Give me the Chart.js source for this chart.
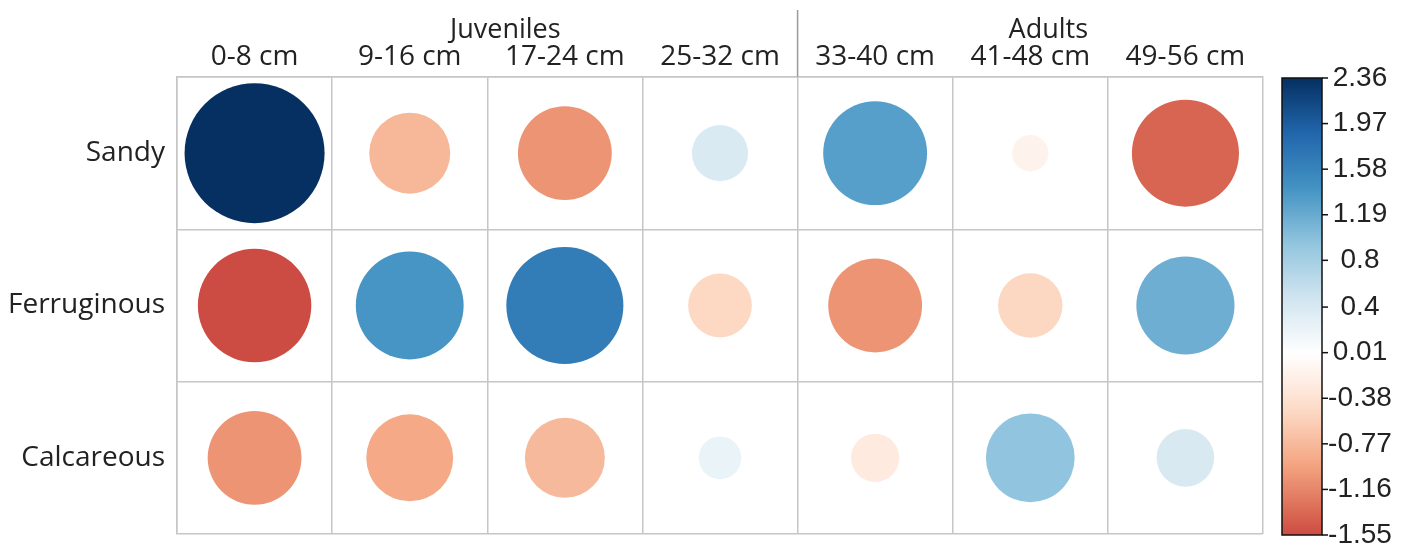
<!DOCTYPE html>
<html>
<head>
<meta charset="utf-8">
<script src="https://cdn.jsdelivr.net/npm/chart.js@4.4.1/dist/chart.umd.min.js"></script>
<style>
  html, body { margin: 0; padding: 0; background: #fff; overflow: hidden; }
  canvas { display: block; }
</style>
</head>
<body>
<canvas id="chart" width="1411" height="549"></canvas>
<script>
// --- Data ---
const sizeClasses = ['0-8 cm', '9-16 cm', '17-24 cm', '25-32 cm', '33-40 cm', '41-48 cm', '49-56 cm'];
const soils = ['Sandy', 'Ferruginous', 'Calcareous'];
const sandy       = [2.36, -0.79, -1.06, 0.38, 1.30, -0.16, -1.38];
const ferruginous = [-1.55, 1.40, 1.65, -0.49, -1.06, -0.50, 1.16];
const calcareous  = [-1.06, -0.91, -0.77, 0.22, -0.28, 0.95, 0.40];
const groups = [
  { label: 'Juveniles', from: 0, to: 3 },
  { label: 'Adults', from: 4, to: 6 }
];
const colorTicks = [2.36, 1.97, 1.58, 1.19, 0.8, 0.4, 0.01, -0.38, -0.77, -1.16, -1.55];

// RdBu palette, symmetric around zero
const palette = ['#67001F', '#B2182B', '#D6604D', '#F4A582', '#FDDBC7', '#FFFFFF',
                 '#D1E5F0', '#92C5DE', '#4393C3', '#2166AC', '#053061'];
const colorLimit = 2.36;
const maxRadius = 70;

function hexToRgb(h) {
  return [parseInt(h.slice(1, 3), 16), parseInt(h.slice(3, 5), 16), parseInt(h.slice(5, 7), 16)];
}
function colorFor(v) {
  let t = (v + colorLimit) / (2 * colorLimit) * (palette.length - 1);
  t = Math.max(0, Math.min(palette.length - 1, t));
  const i = Math.min(Math.floor(t), palette.length - 2);
  const f = t - i;
  const a = hexToRgb(palette[i]), b = hexToRgb(palette[i + 1]);
  const c = a.map((x, k) => Math.round(x + (b[k] - x) * f));
  return `rgb(${c[0]},${c[1]},${c[2]})`;
}

// build bubble points
const rows = [sandy, ferruginous, calcareous];
const points = [];
const colors = [];
rows.forEach((vals, r) => {
  vals.forEach((v, c) => {
    points.push({ x: sizeClasses[c], y: soils[r], r: maxRadius * Math.sqrt(Math.abs(v) / colorLimit), v: v });
    colors.push(colorFor(v));
  });
});

const gridColor = '#c6c6c6';
const textColor = '#222';

// --- Group headers + colour bar ---
const extras = {
  id: 'extras',
  afterDraw(chart) {
    const ctx = chart.ctx;
    const area = chart.chartArea;
    const xs = chart.scales.x;
    ctx.save();

    // group labels and separator
    ctx.font = '27px "Open Sans"';
    ctx.fillStyle = textColor;
    ctx.textAlign = 'center';
    ctx.textBaseline = 'alphabetic';
    groups.forEach(g => {
      const cx = (xs.getPixelForValue(g.from) + xs.getPixelForValue(g.to)) / 2 + 18;
      ctx.fillText(g.label, cx, 38);
    });
    const sepX = (xs.getPixelForValue(3) + xs.getPixelForValue(4)) / 2;
    ctx.strokeStyle = '#9a9a9a';
    ctx.lineWidth = 1.5;
    ctx.beginPath();
    ctx.moveTo(sepX, 10);
    ctx.lineTo(sepX, area.top);
    ctx.stroke();

    // colour bar
    const vmax = colorTicks[0], vmin = colorTicks[colorTicks.length - 1];
    const bx = area.right + 19, bw = 40, top = area.top + 1, bottom = area.bottom + 1;
    const grad = ctx.createLinearGradient(0, top, 0, bottom);
    for (let k = 0; k <= 60; k++) {
      grad.addColorStop(k / 60, colorFor(vmax - (vmax - vmin) * k / 60));
    }
    ctx.fillStyle = grad;
    ctx.fillRect(bx, top, bw, bottom - top);
    ctx.strokeStyle = '#111';
    ctx.lineWidth = 1.5;
    ctx.strokeRect(bx, top, bw, bottom - top);

    ctx.font = '28px "Liberation Sans"';
    ctx.fillStyle = textColor;
    ctx.textAlign = 'center';
    ctx.textBaseline = 'middle';
    colorTicks.forEach(t => {
      const y = top + (vmax - t) / (vmax - vmin) * (bottom - top);
      ctx.beginPath();
      ctx.moveTo(bx + bw, y);
      ctx.lineTo(bx + bw + 6, y);
      ctx.stroke();
      ctx.fillText(String(t), bx + bw + 38, y);
    });
    ctx.restore();
  }
};

new Chart(document.getElementById('chart'), {
  type: 'bubble',
  data: {
    datasets: [{
      data: points,
      backgroundColor: colors,
      borderWidth: 0,
      hoverBorderWidth: 0
    }]
  },
  options: {
    responsive: false,
    animation: false,
    layout: { autoPadding: false, padding: { left: 0, top: 0, right: 148, bottom: 15 } },
    plugins: { legend: { display: false }, tooltip: { enabled: false } },
    scales: {
      x: {
        type: 'category',
        position: 'top',
        labels: sizeClasses,
        offset: true,
        grid: { offset: true, color: gridColor, lineWidth: 1.5, drawTicks: false },
        border: { color: gridColor, width: 1.5 },
        ticks: { color: textColor, font: { family: 'Open Sans', size: 28 }, padding: 3, maxRotation: 0 },
        afterFit(scale) { scale.height = 77; scale.paddingLeft = 0; scale.paddingRight = 0; }
      },
      y: {
        type: 'category',
        labels: soils,
        offset: true,
        grid: { offset: true, color: gridColor, lineWidth: 1.5, drawTicks: false },
        border: { color: gridColor, width: 1.5 },
        ticks: { color: textColor, font: { family: 'Open Sans', size: 28 }, padding: 12 },
        afterFit(scale) { scale.width = 177; scale.paddingTop = 0; scale.paddingBottom = 0; }
      }
    }
  },
  plugins: [extras]
});
</script>
</body>
</html>
